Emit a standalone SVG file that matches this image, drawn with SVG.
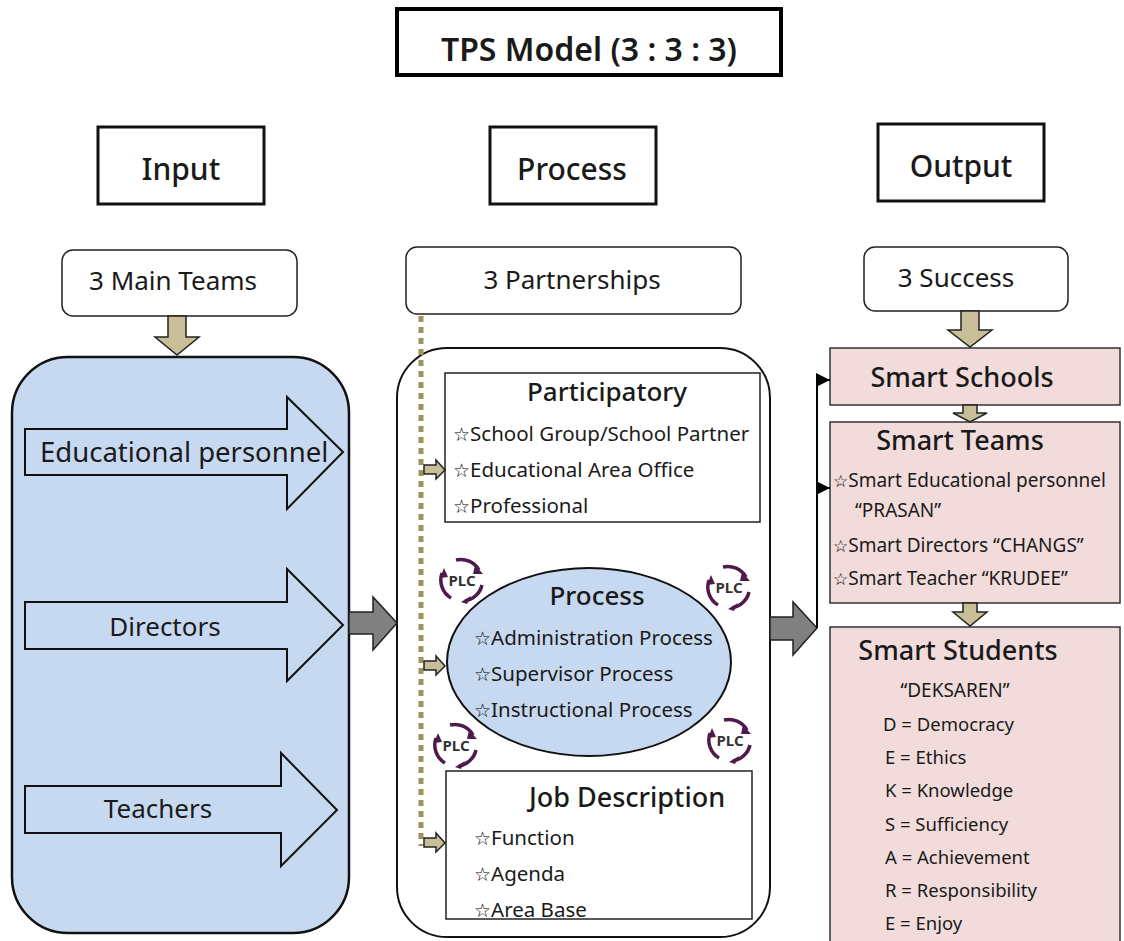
<svg xmlns="http://www.w3.org/2000/svg" xmlns:xlink="http://www.w3.org/1999/xlink" width="1124" height="941" viewBox="0 0 1124 941">
<style>
text{font-family:"Noto Sans","Open Sans","DejaVu Sans",sans-serif;fill:#1a1a1a}
.hdr{font-size:30px;font-weight:500}
.sub{font-size:26px}
.h2{font-size:26px;font-weight:500}
.it{font-size:20.5px}
.st{font-size:19px;fill:#000;font-family:"DejaVu Sans",sans-serif}
.st2{font-size:17px;fill:#000;font-family:"DejaVu Sans",sans-serif}
.big{font-size:27px;font-weight:500}
.hbox{fill:#fff;stroke:#111;stroke-width:3}
.rbox{fill:#fff;stroke:#222;stroke-width:1.5}
.blue{fill:#c6d9f0;stroke:#111;stroke-width:2.5}
.khaki{fill:#c8bf98;stroke:#222;stroke-width:1.5;stroke-linejoin:miter}
.gray{fill:#808080;stroke:#222;stroke-width:1.5}
.pink{fill:#f2dcdb;stroke:#333;stroke-width:1.5}
.fat{fill:#c6d9f0;stroke:#111;stroke-width:2}
.plca{fill:none;stroke:#4f1a4c;stroke-width:3.5}
</style>
<defs>
<marker id="tri" viewBox="0 0 10 10" refX="10" refY="5" markerWidth="14" markerHeight="14" markerUnits="userSpaceOnUse" orient="auto">
<path d="M0,0 L10,5 L0,10 Z" fill="#000"/>
</marker>
<g id="plc">
<path class="plca" d="M-6,-20 A21,21 0 0 1 17,-10"/>
<path d="M13,-15 L21,-6 L11,-6 Z" fill="#4f1a4c"/>
<path class="plca" d="M20,5 A21,21 0 0 1 3,21"/>
<path d="M9,16 L-1,22 L5,24 Z" fill="#4f1a4c"/>
<path class="plca" d="M-11,18 A21,21 0 0 1 -20,-7"/>
<path d="M-22,-2 L-18,-12 L-14,-3 Z" fill="#4f1a4c"/>
<text x="0" y="6" text-anchor="middle" style="font-size:15px;font-weight:bold;fill:#333">PLC</text>
</g>
</defs>

<g id="title">
<rect x="397" y="9" width="384" height="66" fill="#fff" stroke="#000" stroke-width="4"/>
<text x="589" y="61" text-anchor="middle" style="font-size:32px;font-weight:600">TPS Model (3 : 3 : 3)</text>
</g>

<g id="input-header">
<rect class="hbox" x="98" y="127" width="166" height="77"/>
<text class="hdr" x="181" y="180" text-anchor="middle">Input</text>
</g>
<g id="process-header">
<rect class="hbox" x="490" y="127" width="166" height="77"/>
<text class="hdr" x="572" y="180" text-anchor="middle">Process</text>
</g>
<g id="output-header">
<rect class="hbox" x="878" y="124" width="166" height="77"/>
<text class="hdr" x="961" y="177" text-anchor="middle">Output</text>
</g>

<g id="main-teams">
<rect class="rbox" x="62" y="250" width="235" height="66" rx="11"/>
<text class="sub" x="173" y="290" text-anchor="middle">3 Main Teams</text>
</g>
<g id="partnerships">
<rect class="rbox" x="406" y="247" width="335" height="67" rx="11"/>
<text class="sub" x="572" y="289" text-anchor="middle">3 Partnerships</text>
</g>
<g id="success">
<rect class="rbox" x="864" y="247" width="204" height="64" rx="11"/>
<text class="sub" x="956" y="287" text-anchor="middle">3 Success</text>
</g>

<g id="input-panel">
<rect class="blue" x="12" y="357" width="337" height="576" rx="56"/>
</g>
<g id="educational-personnel">
<path class="fat" d="M25,429 H287 V397 L343,452 L287,509 V475 H25 Z"/>
<text x="40" y="462" style="font-size:27.5px">Educational personnel</text>
</g>
<g id="directors">
<path class="fat" d="M25,602 H287 V569 L343,625 L287,681 V649 H25 Z"/>
<text x="165" y="636" text-anchor="middle" style="font-size:26px">Directors</text>
</g>
<g id="teachers">
<path class="fat" d="M25,786 H281 V753 L337,810 L281,866 V833 H25 Z"/>
<text x="158" y="818" text-anchor="middle" style="font-size:26px">Teachers</text>
</g>

<g id="process-panel">
<rect x="397" y="348" width="373" height="589" rx="50" fill="#fff" stroke="#111" stroke-width="2"/>
</g>

<g id="participatory">
<rect x="445" y="373" width="315" height="149" fill="#fff" stroke="#222" stroke-width="1.5"/>
<text class="h2" x="607" y="401" text-anchor="middle">Participatory</text>
<text class="it" x="453" y="441"><tspan class="st">☆</tspan>School Group/School Partner</text>
<text class="it" x="453" y="477"><tspan class="st">☆</tspan>Educational Area Office</text>
<text class="it" x="453" y="513"><tspan class="st">☆</tspan>Professional</text>
</g>

<g id="process-ellipse">
<ellipse cx="589" cy="662" rx="142" ry="94" fill="#c6d9f0" stroke="#111" stroke-width="2"/>
<text class="h2" x="597" y="605" text-anchor="middle">Process</text>
<text class="it" x="474" y="645"><tspan class="st">☆</tspan>Administration Process</text>
<text class="it" x="474" y="681"><tspan class="st">☆</tspan>Supervisor Process</text>
<text class="it" x="474" y="717"><tspan class="st">☆</tspan>Instructional Process</text>
</g>

<g id="plc-icons">
<use xlink:href="#plc" href="#plc" x="462" y="580"/>
<use xlink:href="#plc" href="#plc" x="729" y="587"/>
<use xlink:href="#plc" href="#plc" x="456" y="745"/>
<use xlink:href="#plc" href="#plc" x="730" y="740"/>
</g>

<g id="job-description">
<rect x="446" y="771" width="306" height="148" fill="#fff" stroke="#222" stroke-width="1.5"/>
<text class="h2" x="627" y="807" text-anchor="middle" style="font-size:27px">Job Description</text>
<text class="it" x="474" y="845"><tspan class="st">☆</tspan>Function</text>
<text class="it" x="474" y="881"><tspan class="st">☆</tspan>Agenda</text>
<text class="it" x="474" y="917"><tspan class="st">☆</tspan>Area Base</text>
</g>

<g id="smart-schools">
<rect class="pink" x="830" y="348" width="290" height="57"/>
<text class="big" x="962" y="387" text-anchor="middle">Smart Schools</text>
</g>
<g id="smart-teams">
<rect class="pink" x="830" y="422" width="290" height="181"/>
<text class="big" x="960" y="450" text-anchor="middle">Smart Teams</text>
<text x="833" y="487" style="font-size:19px"><tspan class="st2">☆</tspan>Smart Educational personnel</text>
<text x="855" y="517" style="font-size:19px">“PRASAN”</text>
<text x="833" y="552" style="font-size:19px"><tspan class="st2">☆</tspan>Smart Directors “CHANGS”</text>
<text x="833" y="585" style="font-size:19px"><tspan class="st2">☆</tspan>Smart Teacher “KRUDEE”</text>
</g>
<g id="smart-students">
<rect class="pink" x="830" y="627" width="290" height="330"/>
<text class="big" x="958" y="660" text-anchor="middle">Smart Students</text>
<text x="955" y="697" text-anchor="middle" style="font-size:19px">“DEKSAREN”</text>
<text x="883" y="731" style="font-size:18.5px">D = Democracy</text>
<text x="885" y="764" style="font-size:18.5px">E = Ethics</text>
<text x="885" y="797" style="font-size:18.5px">K = Knowledge</text>
<text x="885" y="831" style="font-size:18.5px">S = Sufficiency</text>
<text x="885" y="864" style="font-size:18.5px">A = Achievement</text>
<text x="885" y="897" style="font-size:18.5px">R = Responsibility</text>
<text x="885" y="930" style="font-size:18.5px">E = Enjoy</text>
</g>

<g id="connectors">
<path class="khaki" d="M168,316 H186 V337 H199 L177,355 L155,337 H168 Z"/>
<path class="khaki" d="M961,311 H979 V330 H992 L970,347 L948,330 H961 Z"/>
<path class="khaki" d="M963,405 H977 V413 H987 L970,422 L953,413 H963 Z"/>
<path class="khaki" d="M963,603 H977 V612 H987 L970,626 L953,612 H963 Z"/>
<line x1="421" y1="316" x2="421" y2="846" stroke="#a0925c" stroke-width="5" stroke-dasharray="6 5"/>
<path class="khaki" d="M424,465 H436 V460 L445,470 L436,479 V474 H424 Z"/>
<path class="khaki" d="M424,661 H436 V656 L445,666 L436,675 V670 H424 Z"/>
<path class="khaki" d="M424,838 H436 V833 L445,843 L436,852 V847 H424 Z"/>
<path class="gray" d="M349,612 H373 V597 L397,623 L373,650 V634 H349 Z"/>
<path class="gray" d="M770,617 H793 V602 L817,628 L793,655 V640 H770 Z"/>
<path d="M817,628 V380 H830" fill="none" stroke="#000" stroke-width="2" marker-end="url(#tri)"/>
<path d="M817,488 H830" fill="none" stroke="#000" stroke-width="2" marker-end="url(#tri)"/>
</g>
</svg>
